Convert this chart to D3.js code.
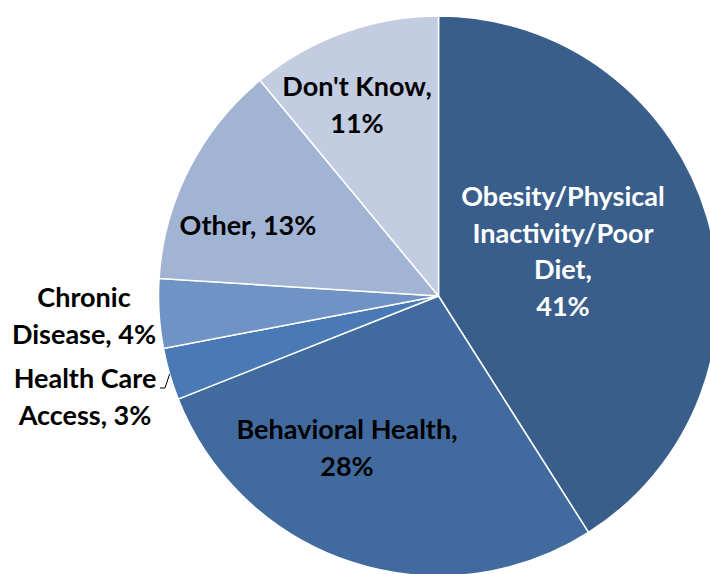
<!DOCTYPE html>
<html>
<head>
<meta charset="utf-8">
<script src="https://cdn.jsdelivr.net/npm/d3@7"></script>
<style>
  body { margin: 0; background: #fff; }
  text { font-family: Lato, "Open Sans", sans-serif; font-weight: bold; }
</style>
</head>
<body>
<script>
var categories = ["Obesity/Physical Inactivity/Poor Diet", "Behavioral Health", "Health Care Access", "Chronic Disease", "Other", "Don't Know"];
var values = [41, 28, 3, 4, 13, 11];
var labelLines = [
  ["Obesity/Physical", "Inactivity/Poor", "Diet,", "41%"],
  ["Behavioral Health,", "28%"],
  ["Health Care", "Access, 3%"],
  ["Chronic", "Disease, 4%"],
  ["Other, 13%"],
  ["Don't Know,", "11%"]
];
var colors = ["#395e8b", "#416b9e", "#4a7ab5", "#7093c5", "#a2b4d4", "#c3cde2"];

var chart = { width: 710, height: 574, cx: 438.5, cy: 296, r: 280 };
// label anchor (center x, first baseline y)
var labelPlace = [
  { x: 563, y: 206, color: "#fff" },
  { x: 347, y: 439, color: "#000" },
  { x: 85, y: 388, color: "#000", leader: true },
  { x: 84, y: 307, color: "#000" },
  { x: 248, y: 235, color: "#000" },
  { x: 357, y: 96, color: "#000" }
];
var lineH = 36.5;

var svg = d3.select('body').append('svg')
  .attr('width', chart.width)
  .attr('height', chart.height);

var pie = d3.pie().sort(null).value(function(d) { return d; });
var arcs = pie(values);
var arc = d3.arc().innerRadius(0).outerRadius(chart.r);

var g = svg.append('g').attr('transform', 'translate(' + chart.cx + ',' + chart.cy + ')');

g.selectAll('path').data(arcs).enter().append('path')
  .attr('d', arc)
  .style('fill', function(d, i) { return colors[i]; })
  .style('stroke', '#fff')
  .style('stroke-width', 1.5);

var labels = svg.selectAll('text.lbl').data(arcs).enter().append('text')
  .attr('class', 'lbl')
  .attr('text-anchor', 'middle')
  .style('font-size', '27px')
  .style('fill', function(d, i) { return labelPlace[i].color; });

labels.each(function(d, i) {
  var t = d3.select(this);
  labelLines[i].forEach(function(line, j) {
    t.append('tspan')
      .attr('x', labelPlace[i].x)
      .attr('y', labelPlace[i].y + j * lineH)
      .text(line);
  });
});

// leader line for the small slice
arcs.forEach(function(d, i) {
  if (!labelPlace[i].leader) return;
  var mid = (d.startAngle + d.endAngle) / 2;
  var ex = chart.cx + chart.r * Math.sin(mid);
  var ey = chart.cy - chart.r * Math.cos(mid);
  svg.append('path')
    .attr('d', d3.line()([[160, 388], [165, 388], [ex, ey]]))
    .style('fill', 'none')
    .style('stroke', '#000')
    .style('stroke-width', 1);
});
</script>
</body>
</html>
